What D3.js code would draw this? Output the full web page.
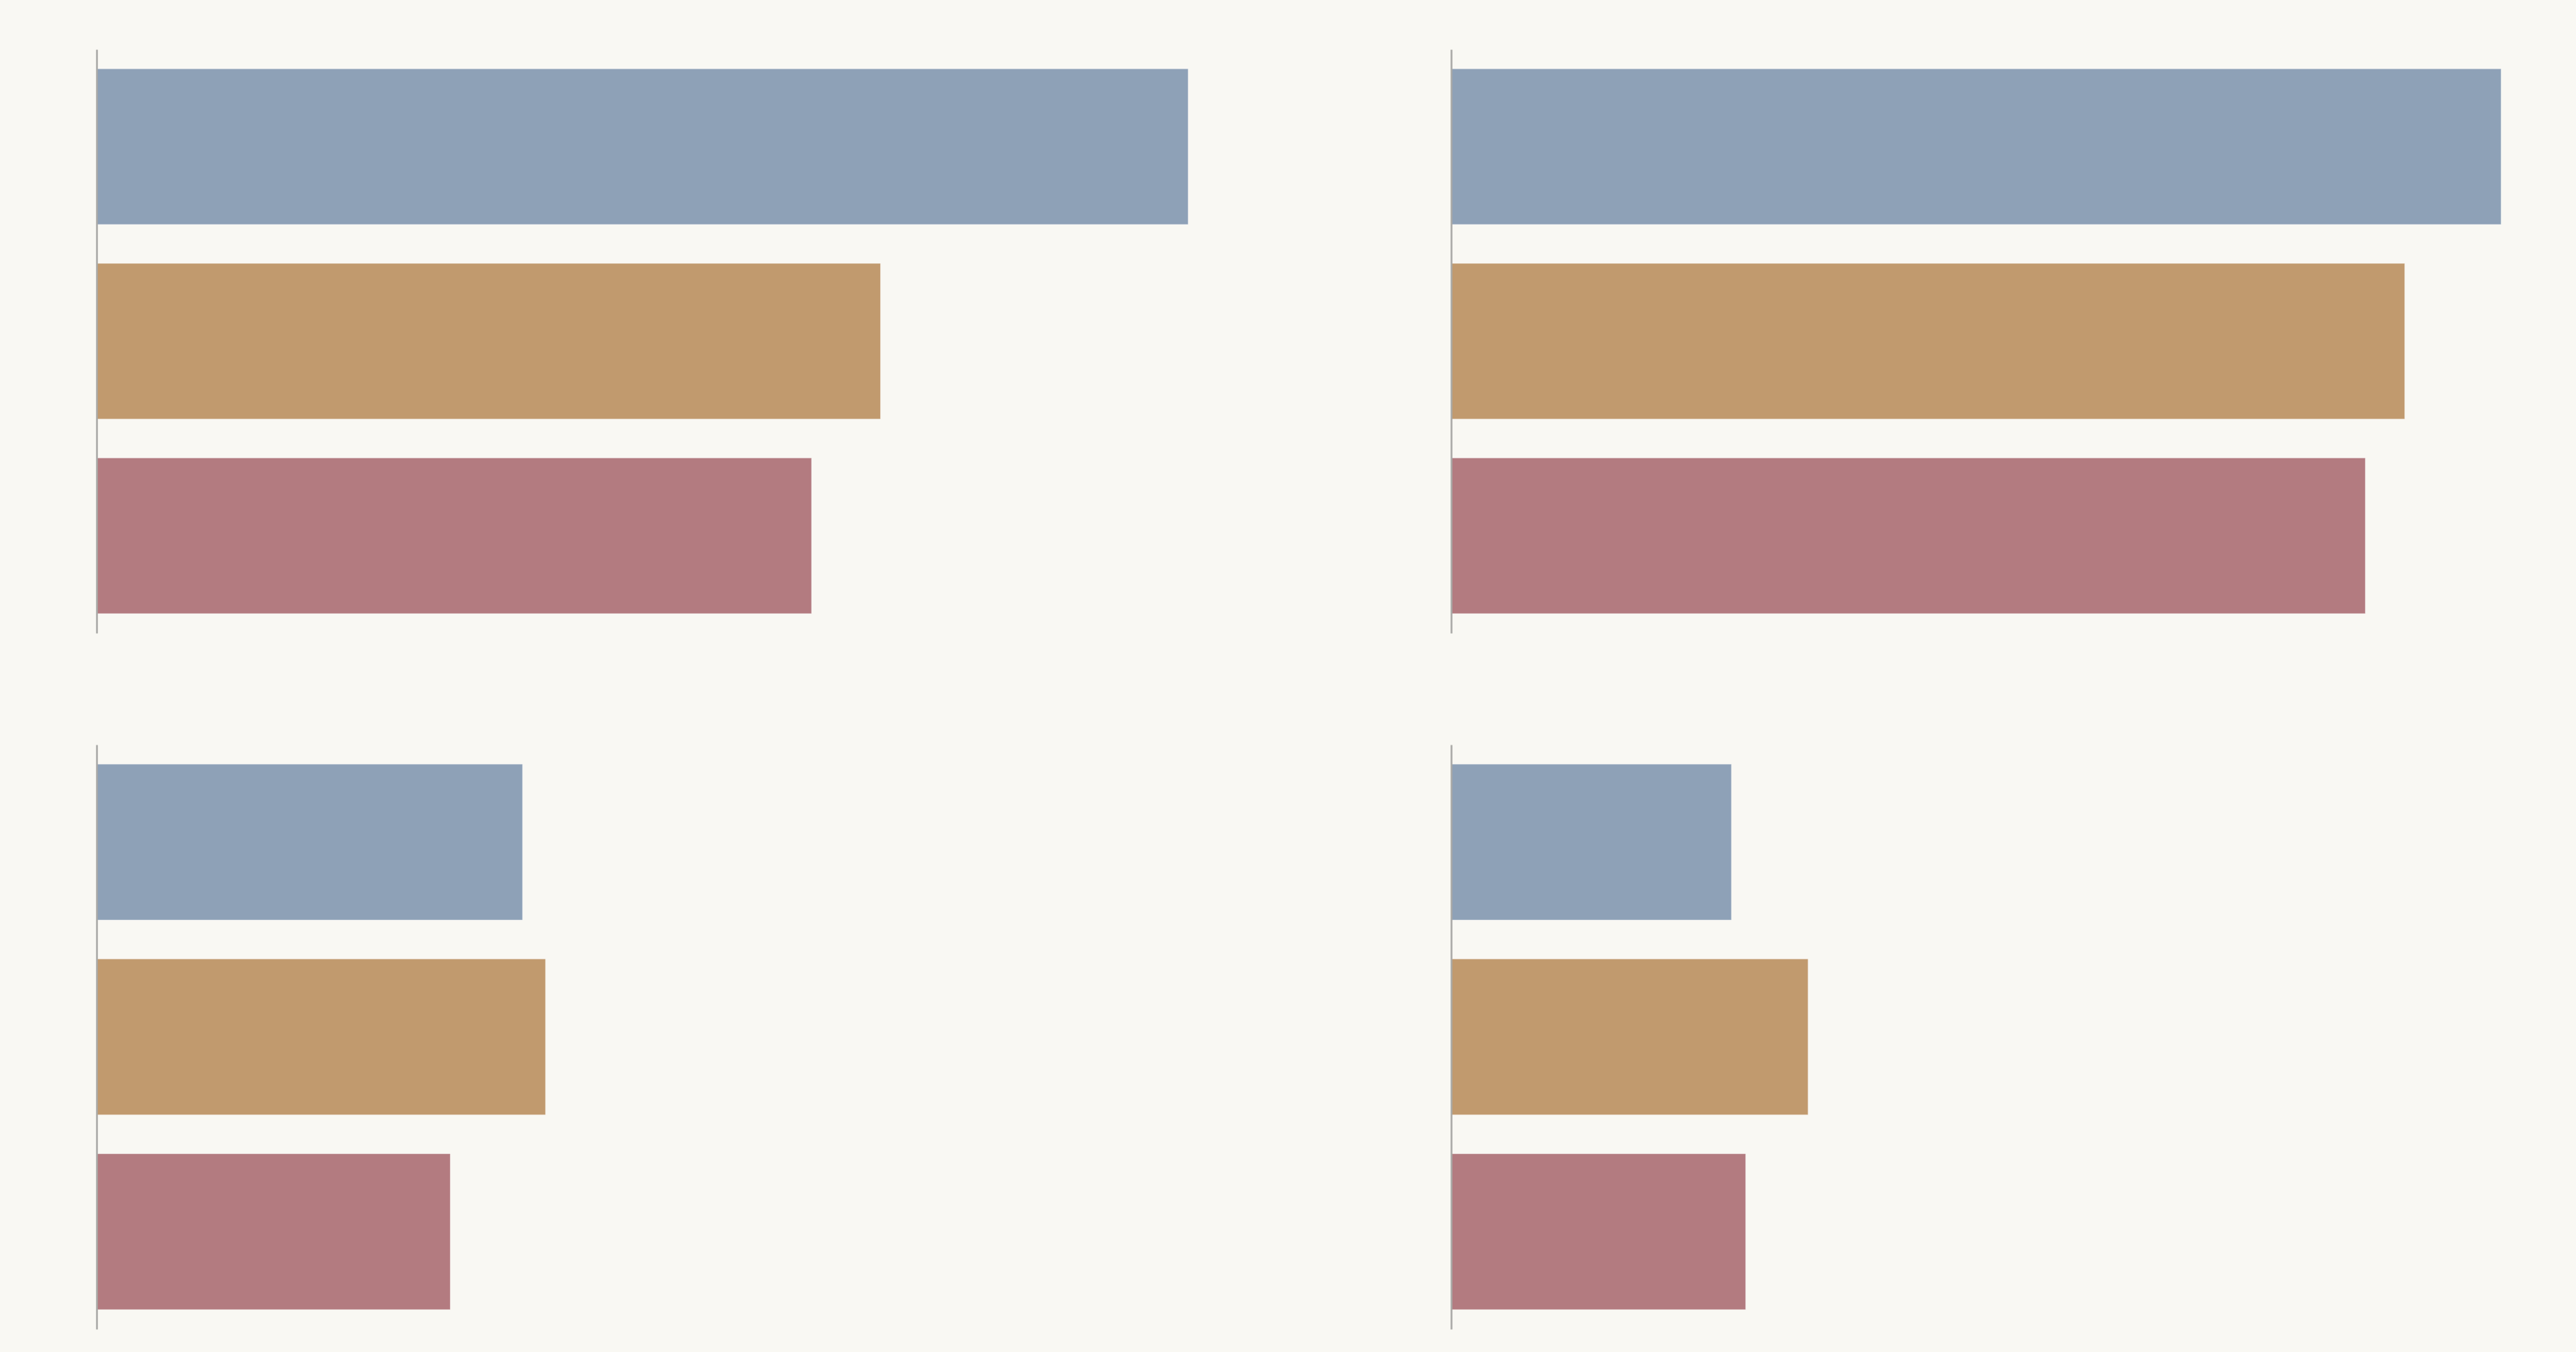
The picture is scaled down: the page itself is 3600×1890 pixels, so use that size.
<!DOCTYPE html>
<html>
<head>
<meta charset="utf-8">
<script src="https://cdn.jsdelivr.net/npm/d3@7"></script>
<style>
  html, body { margin: 0; padding: 0; background: #f9f8f3; }
  svg { display: block; }
</style>
</head>
<body>
<svg id="chart" width="3600" height="1890"></svg>
<script>
// Data
const categories = ["A", "B", "C"];
const panels = ["p1", "p2", "p3", "p4"];
const panelValuesP1 = [99.7, 71.6, 65.3];
const panelValuesP2 = [95.9, 87.1, 83.5];
const panelValuesP3 = [38.9, 41.0, 32.3];
const panelValuesP4 = [25.6, 32.6, 26.9];
const colors = ["#8ea1b7", "#c19a6e", "#b37b80"];

const allValues = [panelValuesP1, panelValuesP2, panelValuesP3, panelValuesP4];

const svg = d3.select("#chart");
svg.append("rect").attr("width", 3600).attr("height", 1890).attr("fill", "#f9f8f3");

const colX = [135, 2028];
const rowY = [[69, 885], [1041, 1858]];

const x = d3.scaleLinear().domain([0, 100]).range([0, 1530]);
const color = d3.scaleOrdinal().domain(categories).range(colors);

panels.forEach((p, i) => {
  const col = i % 2, row = Math.floor(i / 2);
  const y = d3.scaleBand().domain(categories)
    .range(rowY[row]).paddingInner(0.2).paddingOuter(0.1);
  const g = svg.append("g").attr("transform", `translate(${colX[col]},0)`);
  const vals = allValues[i];
  g.selectAll("rect.bar").data(categories).join("rect")
    .attr("class", "bar")
    .attr("x", x(0))
    .attr("y", c => y(c))
    .attr("width", (c, j) => x(vals[j]) - x(0))
    .attr("height", y.bandwidth())
    .attr("fill", c => color(c))
    .attr("stroke", "#ffffff")
    .attr("stroke-opacity", 0.35)
    .attr("stroke-width", 1);
  const ax = g.append("g").call(d3.axisLeft(y).tickSize(0).tickFormat(""));
  ax.select(".domain").attr("stroke", "#a9a9a6").attr("stroke-width", 2.5);
});
</script>
</body>
</html>
